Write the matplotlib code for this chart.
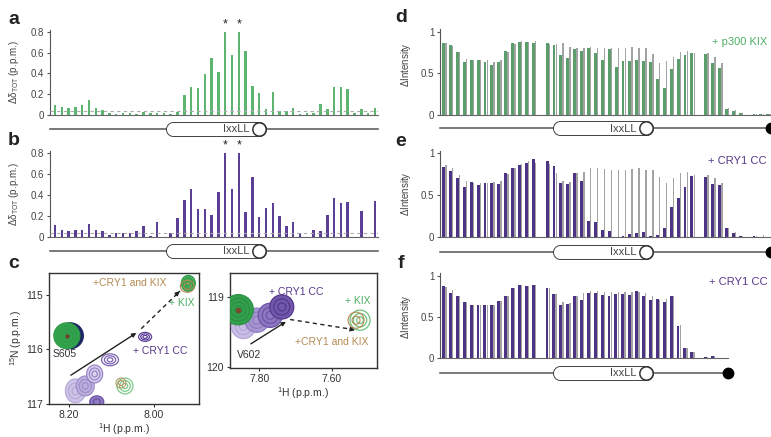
import numpy as np
import matplotlib as mpl
mpl.use('Agg')
import matplotlib.pyplot as plt
from matplotlib.patches import Ellipse

plt.rcParams['font.family'] = ['Liberation Sans', 'DejaVu Sans']
plt.rcParams['mathtext.default'] = 'regular'

W, H = 771, 437
nan = np.nan

# ---- chemical shift perturbation (a, b), one value per residue slot ----
shift_kix = [0.10, 0.08, 0.07, 0.08, 0.10, 0.14, 0.07, 0.05, 0.02, 0.01,
             0.02, 0.02, 0.01, 0.03, 0.02, 0.02, 0.02, 0.01, 0.03, 0.19,
             0.27, 0.26, 0.39, 0.55, 0.41, 0.80, 0.58, 0.80, 0.61, 0.28,
             0.21, 0.06, 0.22, 0.04, 0.04, 0.07, 0.01, 0.02, 0.02, 0.11,
             0.06, 0.27, 0.27, 0.25, 0.02, 0.06, 0.02, 0.07]
shift_cry = [0.11, 0.06, 0.05, 0.06, 0.06, 0.12, 0.06, 0.05, 0.02, 0.04,
             0.04, 0.04, 0.05, 0.10, 0.01, 0.14, 0.00, 0.04, 0.18, 0.35,
             0.46, 0.27, 0.27, 0.21, 0.43, 0.80, 0.46, 0.80, 0.24, 0.57,
             0.19, 0.28, 0.32, 0.20, 0.10, 0.14, 0.04, 0.00, 0.06, 0.05,
             0.21, 0.37, 0.32, 0.33, 0.00, 0.25, 0.00, 0.34]
shift_cutoff = 0.04
starred = [25, 27]

# ---- intensity ratios (d, e, f) ----
int_kix = [0.86, 0.84, 0.76, 0.64, 0.66, 0.66, 0.64, 0.60, 0.64, 0.77,
           0.87, 0.88, 0.88, 0.87, nan, 0.87, 0.84, 0.72, 0.68, 0.79,
           0.77, 0.81, 0.75, 0.66, 0.79, 0.58, 0.65, 0.65, 0.66, 0.65,
           0.64, 0.43, 0.33, 0.55, 0.67, 0.72, 0.74, nan, 0.73, 0.62,
           0.57, 0.07, 0.05, 0.02, 0.00, 0.01, 0.01, 0.01]
int_free_d = [0.86, 0.83, 0.76, 0.67, 0.66, 0.66, 0.66, 0.64, 0.66, 0.76,
              0.85, 0.89, 0.88, 0.89, nan, 0.85, 0.85, 0.86, 0.82, 0.80,
              0.80, 0.82, 0.80, 0.80, 0.81, 0.81, 0.81, 0.82, 0.80, 0.80,
              0.73, 0.63, 0.65, 0.70, 0.76, 0.77, 0.75, nan, 0.74, 0.70,
              0.62, 0.08, 0.06, 0.02, 0.00, 0.01, 0.01, 0.01]
int_cry = [0.84, 0.79, 0.71, 0.60, 0.66, 0.62, 0.65, 0.65, 0.63, 0.77,
           0.82, 0.86, 0.88, 0.93, nan, 0.91, 0.85, 0.65, 0.63, 0.77,
           0.67, 0.19, 0.18, 0.08, 0.07, 0.00, 0.01, 0.03, 0.04, 0.06,
           0.01, 0.02, 0.10, 0.36, 0.46, 0.60, 0.73, nan, 0.72, 0.63,
           0.62, 0.10, 0.05, 0.01, 0.00, 0.01, 0.00, 0.00]
int_free_e = [0.86, 0.82, 0.74, 0.67, 0.64, 0.64, 0.65, 0.66, 0.67, 0.75,
              0.83, 0.87, 0.91, 0.88, nan, 0.87, 0.76, 0.67, 0.66, 0.76,
              0.78, 0.82, 0.82, 0.81, 0.80, 0.80, 0.80, 0.81, 0.82, 0.80,
              0.80, 0.72, 0.64, 0.70, 0.76, 0.78, 0.74, nan, 0.74, 0.70,
              0.64, 0.11, 0.06, 0.01, 0.00, 0.01, 0.02, 0.00]
int_cry_trunc = [0.88, 0.79, 0.75, 0.68, 0.65, 0.65, 0.65, 0.65, 0.69, 0.75,
                 0.85, 0.89, 0.88, 0.89, nan, 0.85, 0.78, 0.65, 0.66, 0.76,
                 0.71, 0.79, 0.79, 0.77, 0.75, 0.78, 0.78, 0.77, 0.81, 0.76,
                 0.71, 0.72, 0.68, 0.75, 0.39, 0.12, 0.08, nan, 0.02, 0.03]
int_free_f = [0.86, 0.83, 0.75, 0.68, 0.65, 0.65, 0.65, 0.65, 0.69, 0.76,
              0.85, 0.89, 0.88, 0.89, nan, 0.85, 0.78, 0.68, 0.67, 0.76,
              0.79, 0.82, 0.81, 0.80, 0.80, 0.80, 0.80, 0.80, 0.80, 0.79,
              0.76, 0.70, 0.72, 0.75, 0.40, 0.13, 0.08, nan, 0.02, 0.03]

helix_ab = (16.2, 31.1)
helix_def = (15.8, 30.3)

# ---- HSQC peaks (c), 1H / 15N in p.p.m. ----
s605_free = (8.204, 115.75)
s605_cry_h = [8.184, 8.161, 8.139, 8.103, 8.021]
s605_cry_n = [116.76, 116.67, 116.45, 116.19, 115.77]
s605_kix = (7.920, 114.79)
s605_other = (8.068, 116.67)
s605_other_cry = (8.134, 116.96)
v602_free = (7.858, 119.18)
v602_cry_h = [7.844, 7.807, 7.770, 7.738]
v602_cry_n = [119.42, 119.33, 119.26, 119.14]
v602_kix = (7.522, 119.33)

GREEN = '#4fae65'
GREEN_D = '#5c9e6b'
PURPLE = '#553889'
GRAY = '#a3a3a3'
TAN = '#b58a52'
TXT = '#444444'


def rect(x0, y0, x1, y1):
    return [x0 / W, 1 - y1 / H, (x1 - x0) / W, (y1 - y0) / H]


fig = plt.figure(figsize=(W / 100, H / 100), dpi=100)


def bar_axes(pos, xlim, ylim, ticks, labels):
    ax = fig.add_axes(rect(*pos))
    ax.set_xlim(xlim)
    ax.set_ylim(ylim)
    for s in ['top', 'right']:
        ax.spines[s].set_visible(False)
    ax.spines['left'].set_color('#555555')
    ax.spines['bottom'].set_color('#666666')
    ax.spines['left'].set_linewidth(0.8)
    ax.spines['bottom'].set_linewidth(0.8)
    ax.set_xticks([])
    ax.set_yticks(ticks)
    ax.set_yticklabels(labels)
    ax.tick_params(axis='y', length=2.5, width=0.8, colors='#555555',
                   labelsize=7, pad=1.5, labelcolor=TXT)
    return ax


def domain(pos, xlim, helix, end_dot):
    dx = fig.add_axes(rect(*pos))
    dx.set_xlim(xlim)
    dx.set_ylim(-1, 1)
    dx.axis('off')
    dx.plot(xlim, [0, 0], color='#555555', lw=1.1, zorder=1, clip_on=False)
    px = (pos[2] - pos[0]) / (xlim[1] - xlim[0])
    r = 7.3 / px
    x0, x1 = helix[0] + r, helix[1] - r
    dx.plot([x0, x1], [0, 0], color='#333333', lw=10.8, solid_capstyle='round', zorder=2)
    dx.plot([x0, x1], [0, 0], color='white', lw=9.5, solid_capstyle='round', zorder=3)
    dx.plot([x1], [0], 'o', ms=9.6, mfc='white', mec='#333333', mew=1.1, zorder=4)
    dx.text(x1 - 9.5 / px, -0.05, 'IxxLL', ha='right', va='center', fontsize=8,
            color=TXT, zorder=5)
    if end_dot:
        dx.plot([xlim[1]], [0], 'o', ms=7.5, color='black', clip_on=False, zorder=4)


# ---- a, b ----
xlim_ab = (-0.73, 47.45)
for pos, vals, col, dpos in [((50, 29.6, 378, 115), shift_kix, '#5db56f', (50, 119, 378, 139)),
                             ((50, 151.3, 378, 236.7), shift_cry, '#5b3f94', (50, 241, 378, 261))]:
    ax = bar_axes(pos, xlim_ab, (0, 0.82), [0, 0.2, 0.4, 0.6, 0.8],
                  ['0', '0.2', '0.4', '0.6', '0.8'])
    x = np.arange(len(vals))
    ax.bar(x, vals, width=0.36, color=col, zorder=2)
    ax.axhline(shift_cutoff, color='#aaaaaa', lw=0.8, dashes=(3, 3), zorder=3)
    for i in starred:
        ax.text(i, vals[i] + 0.015, '*', ha='center', va='bottom', fontsize=9,
                color='#222222', clip_on=False)
    domain(dpos, xlim_ab, helix_ab, False)

fig.text(14 / W, 1 - 72 / H, r'$\Delta\delta_{TOT}$ (p.p.m.)', rotation=90,
         ha='center', va='center', fontsize=7, color=TXT)
fig.text(14 / W, 1 - 194 / H, r'$\Delta\delta_{TOT}$ (p.p.m.)', rotation=90,
         ha='center', va='center', fontsize=7, color=TXT)

# ---- d, e, f ----
xlim_de = (-0.58, 47.4)
xlim_f = (-0.58, 41.2)
panels = [((440, 29.2, 771, 115), xlim_de, int_kix, int_free_d, GREEN_D, (440, 118, 771, 138), 65),
          ((440, 150.9, 771, 236.7), xlim_de, int_cry, int_free_e, '#4d3384', (440, 242, 771, 262), 194),
          ((440, 273.2, 728, 358.3), xlim_f, int_cry_trunc, int_free_f, '#4d3384', (440, 363, 728, 383), 317)]
for pos, xl, vals, free, col, dpos, ylab in panels:
    ax = bar_axes(pos, xl, (0, 1.03), [0, 0.5, 1], ['0', '0.5', '1'])
    x = np.arange(len(vals))
    ax.bar(x + 0.27, free, width=0.2, color=GRAY, zorder=2)
    ax.bar(x - 0.06, vals, width=0.42, color=col, zorder=3)
    domain(dpos, xl, helix_def, True)
    fig.text(406 / W, 1 - ylab / H, r'$\Delta$Intensity', rotation=90,
             ha='center', va='center', fontsize=7, color=TXT)

fig.text(767 / W, 1 - 42 / H, '+ p300 KIX', ha='right', va='center', fontsize=8, color=GREEN)
fig.text(767 / W, 1 - 161 / H, '+ CRY1 CC', ha='right', va='center', fontsize=8, color=PURPLE)
fig.text(768 / W, 1 - 282 / H, '+ CRY1 CC', ha='right', va='center', fontsize=8, color=PURPLE)


# ---- c: HSQC zooms ----
def hsqc_axes(pos, xlim, ylim, xt, xtl, yt):
    ax = fig.add_axes(rect(*pos))
    ax.set_xlim(xlim)
    ax.set_ylim(ylim)
    ax.set_xticks(xt)
    ax.set_xticklabels(xtl)
    ax.set_yticks(yt)
    ax.set_yticklabels([str(v) for v in yt])
    for s in ax.spines.values():
        s.set_linewidth(1.0)
        s.set_color('#333333')
    ax.tick_params(length=2.5, width=0.8, labelsize=7.5, pad=2, colors='#333333')
    ax.set_xlabel(r'$^{1}$H (p.p.m.)', fontsize=7.5, color='#333333', labelpad=1)
    return ax


def peak(ax, c, rx, ry, sx, sy, ec, fc='none', rings=3, lw=0.9):
    for k in range(rings, 0, -1):
        f = k / rings
        ax.add_patch(Ellipse(c, 2 * rx * f / sx, 2 * ry * f / sy,
                             fc=fc if k == rings else 'none', ec=ec, lw=lw, zorder=3))


# left (S605)
sx, sy = 428.0, 55.0
axl = hsqc_axes((49.3, 273, 199, 404), (8.245, 7.895), (117.0, 114.6),
                [8.20, 8.00], ['8.20', '8.00'], [115, 116, 117])
axl.set_ylabel(r'$^{15}$N (p.p.m.)', fontsize=7.5, color='#333333', labelpad=2)
peak(axl, (s605_free[0] - 3.5 / sx, s605_free[1]), 13, 13, sx, sy, '#1d2660', '#1d2660', rings=1)
peak(axl, s605_free, 13, 13, sx, sy, '#2e9a48', '#33a34e', rings=4)
axl.plot(*s605_free, 'o', ms=2, color='#7a3a2a', zorder=4)
purp_fill = ['#cdc3e6', '#bcb0dd', '#d9d1ee', 'white', 'white']
purp_edge = ['#b8aad9', '#9f8dcc', '#9784c6', '#7b62b0', '#5b3d99']
purp_r = [(10, 12), (9, 10), (8, 9), (8.5, 6), (6.5, 4.5)]
for h, n, fc, ec, (rx, ry) in zip(s605_cry_h, s605_cry_n, purp_fill, purp_edge, purp_r):
    peak(axl, (h, n), rx, ry, sx, sy, ec, fc, rings=3)
peak(axl, s605_other_cry, 7, 6, sx, sy, '#6a50a5', '#8f7bc2', rings=2)
peak(axl, s605_other, 8, 8, sx, sy, '#7cc98a', 'white', rings=3)
peak(axl, (s605_other[0] + 4 / sx, s605_other[1] - 3 / sy), 5, 5, sx, sy, TAN, rings=2, lw=0.7)
peak(axl, s605_kix, 7, 8, sx, sy, '#2e9a48', '#4fb464', rings=3)
peak(axl, (s605_kix[0] + 1 / sx, s605_kix[1] + 3 / sy), 7, 6, sx, sy, TAN, rings=2, lw=0.8)
axl.annotate('', xy=(8.036, 115.67), xytext=(8.20, 116.5),
             arrowprops=dict(arrowstyle='-|>', color='#222222', lw=1.0, mutation_scale=6))
axl.plot([8.03, 7.942], [115.62, 114.95], color='#222222', lw=1.0, dashes=(3, 2.5))
axl.annotate('', xy=(7.935, 114.90), xytext=(7.945, 114.97),
             arrowprops=dict(arrowstyle='-|>', color='#222222', lw=1.0, mutation_scale=6))
axl.text(8.208, 116.09, 'S605', ha='center', va='center', fontsize=7.5, color='#333333')
axl.text(8.057, 114.78, '+CRY1 and KIX', ha='center', va='center', fontsize=7.5, color=TAN)
axl.text(7.935, 115.15, '+ KIX', ha='center', va='center', fontsize=7.5, color=GREEN)
axl.text(7.985, 116.03, '+ CRY1 CC', ha='center', va='center', fontsize=7.5, color=PURPLE)

# right (V602)
sx, sy = 362.0, 69.4
axr = hsqc_axes((230, 272.7, 376.7, 367.7), (7.881, 7.476), (120.01, 118.65),
                [7.80, 7.60], ['7.80', '7.60'], [119, 120])
purp_fill_r = ['#c9bfe4', '#a796d0', '#8c77c0', '#7258ad']
purp_edge_r = ['#b3a5d8', '#8f7bc2', '#6e55aa', '#553889']
for h, n, fc, ec in zip(v602_cry_h, v602_cry_n, purp_fill_r, purp_edge_r):
    peak(axr, (h, n), 12, 12, sx, sy, ec, fc, rings=3)
peak(axr, v602_free, 15, 15, sx, sy, '#2b8f44', '#32a04c', rings=4)
axr.plot(*v602_free, 'o', ms=3, color='#7a4a2a', zorder=4)
peak(axr, v602_kix, 10, 10, sx, sy, '#6cc27c', 'white', rings=3)
peak(axr, (v602_kix[0] + 4 / sx, v602_kix[1]), 8, 8, sx, sy, TAN, rings=2, lw=0.8)
axr.annotate('', xy=(7.72, 119.33), xytext=(7.830, 119.69),
             arrowprops=dict(arrowstyle='-|>', color='#222222', lw=1.0, mutation_scale=6))
axr.plot([7.715, 7.545], [119.32, 119.46], color='#222222', lw=1.0, dashes=(3, 2.5))
axr.annotate('', xy=(7.536, 119.47), xytext=(7.548, 119.46),
             arrowprops=dict(arrowstyle='-|>', color='#222222', lw=1.0, mutation_scale=6))
axr.text(7.827, 119.83, 'V602', ha='center', va='center', fontsize=7.5, color='#333333')
axr.text(7.697, 118.92, '+ CRY1 CC', ha='center', va='center', fontsize=7.5, color=PURPLE)
axr.text(7.529, 119.06, '+ KIX', ha='center', va='center', fontsize=7.5, color=GREEN)
axr.text(7.601, 119.64, '+CRY1 and KIX', ha='center', va='center', fontsize=7.5, color=TAN)

# panel letters
for lab, x, y in [('a', 14, 20), ('b', 14, 140), ('c', 14, 264),
                  ('d', 401, 18), ('e', 401, 142), ('f', 401, 263)]:
    fig.text(x / W, 1 - y / H, lab, ha='center', va='center', fontsize=14,
             fontweight='bold', color='#222222')

fig.savefig('out.png', dpi=100)
